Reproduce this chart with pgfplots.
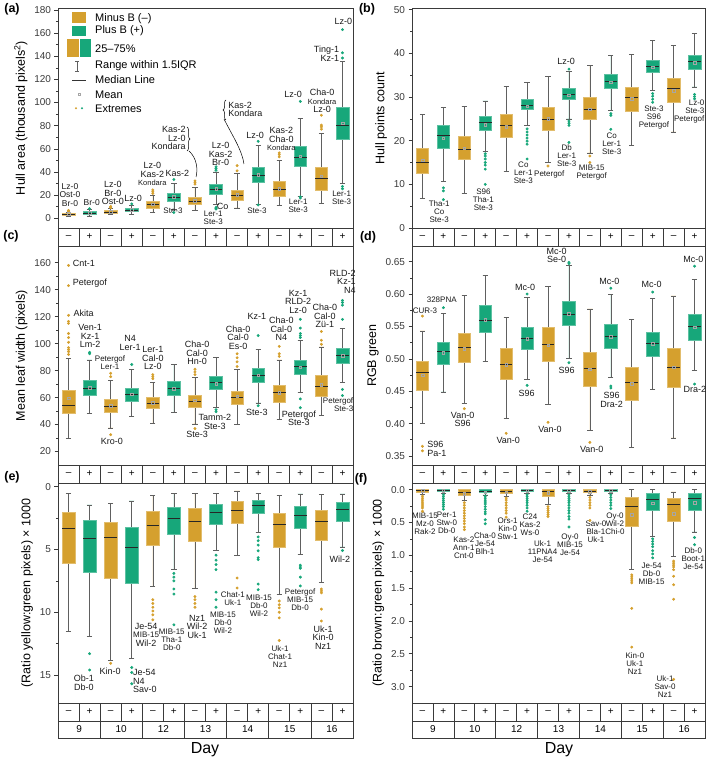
\documentclass[border=0pt]{standalone}
\usepackage{pgfplots}
\pgfplotsset{compat=1.18}
\usepgfplotslibrary{statistics}
\usetikzlibrary{decorations.pathreplacing}
\usepackage{fontspec}
\setmainfont{Liberation Sans}
\definecolor{mcol}{HTML}{D5A02E}
\definecolor{pcol}{HTML}{17A77A}
\definecolor{axc}{HTML}{3A3A3A}
\newcommand\pxy[2]{({#1pt},{760pt-#2pt})}
\tikzset{an/.style={font=\fontsize{9}{8.5}\selectfont, align=center, inner sep=0pt, text=black!90},
  ans/.style={an, font=\fontsize{8}{8}\selectfont}}
\pgfplotsset{
  panel/.style={scale only axis, clip=false, anchor=north west,
    xmin=0.5, xmax=14.5, xtick=\empty,
    axis line style={axc, line width=0.7pt},
    tick align=outside, ytick pos=left,
    tick style={axc, line width=0.6pt},
    major tick length=3.5pt, minor tick length=2pt,
    minor y tick num=1,
    yticklabel style={font=\fontsize{10}{10}\selectfont, text=axc},
    ylabel style={font=\fontsize{12.5}{13}\selectfont, text=black},
    /pgf/number format/assume math mode=true,
    /pgf/number format/1000 sep={},
    boxplot/draw direction=y,
    boxplot/box extend=0.6,
    boxplot/whisker extend=0.25,
    boxplot/every whisker/.style={draw=gray!75!black, line width=0.6pt},
    boxplot/every median/.style={draw=black!85, line width=0.7pt},
  },
  mb/.style={draw=mcol!70!white, fill=mcol, line width=0.5pt, mark=*, mark size=1.2pt, mark options={draw=mcol, fill=mcol}},
  pb/.style={draw=pcol!70!white, fill=pcol, line width=0.5pt, mark=*, mark size=1.2pt, mark options={draw=pcol, fill=pcol}},
  meanst/.style={only marks, mark=square, mark size=1.3pt, mark options={draw=black!35, line width=0.4pt, fill=none}},
  strip/.style={scale only axis, anchor=north west, height=18pt, xmin=0.5, xmax=14.5, ymin=0, ymax=1,
    xtick=\empty, ytick=\empty, axis line style={axc, line width=0.7pt},
    extra x ticks={1.5,2.5,...,13.5}, extra x tick labels={},
    extra x tick style={grid=major, major grid style={axc, line width=0.7pt}, major tick length=0pt}},
}
\newcommand\bm[7]{\addplot[mb, boxplot prepared={draw position=#1, lower whisker=#2, lower quartile=#3, median=#4, upper quartile=#5, upper whisker=#6}] coordinates {#7};}
\newcommand\bp[7]{\addplot[pb, boxplot prepared={draw position=#1, lower whisker=#2, lower quartile=#3, median=#4, upper quartile=#5, upper whisker=#6}] coordinates {#7};}
\newcommand\stripax[3]{%
\begin{axis}[strip, at={(#1pt,#2pt)}, width=#3pt]
\pgfplotsinvokeforeach{1,3,5,7,9,11,13}{\node[font=\fontsize{10}{10}\selectfont] at (axis cs:##1,0.5) {–};}
\pgfplotsinvokeforeach{2,4,6,8,10,12,14}{\node[font=\fontsize{10}{10}\selectfont] at (axis cs:##1,0.5) {+};}
\end{axis}}
\newcommand\dayax[3]{%
\begin{axis}[strip, at={(#1pt,#2pt)}, width=#3pt, height=17pt, extra x ticks={2.5,4.5,6.5,8.5,10.5,12.5}]
\node[font=\fontsize{10}{10}\selectfont] at (axis cs:1.5,0.5) {9};
\node[font=\fontsize{10}{10}\selectfont] at (axis cs:3.5,0.5) {10};
\node[font=\fontsize{10}{10}\selectfont] at (axis cs:5.5,0.5) {12};
\node[font=\fontsize{10}{10}\selectfont] at (axis cs:7.5,0.5) {13};
\node[font=\fontsize{10}{10}\selectfont] at (axis cs:9.5,0.5) {14};
\node[font=\fontsize{10}{10}\selectfont] at (axis cs:11.5,0.5) {15};
\node[font=\fontsize{10}{10}\selectfont] at (axis cs:13.5,0.5) {16};
\end{axis}}
\begin{document}
\begin{tikzpicture}
\useasboundingbox (0,0) rectangle (709pt,760pt);
%% (a)
\begin{axis}[panel, at={(58pt,752pt)}, width=295pt, height=220pt, ymin=-8.4, ymax=181.7, ytick={0,20,...,180},
  ylabel={Hull area (thousand pixels\textsuperscript{2})}]
\bm{1}{1.5}{3.0}{3.7}{4.5}{5.3}{(0,5.8)(0,6.3)(0,6.8)}
\bp{2}{2.0}{3.6}{4.5}{5.8}{7.5}{(0,8.3)}
\bm{3}{3.0}{4.5}{5.3}{6.5}{8.6}{(0,9.0)(0,9.6)(0,10.2)}
\bp{4}{3.0}{5.8}{7.0}{8.5}{11.0}{(0,12.5)}
\bm{5}{5.0}{9.0}{12.0}{15.0}{20.0}{(0,21.5)(0,23.0)(0,24.5)}
\bp{6}{7.5}{14.5}{18.2}{22.0}{30.0}{(0,33.5)(0,5.0)}
\bm{7}{7.0}{12.0}{15.0}{18.5}{27.0}{(0,29.5)(0,31.0)(0,32.3)}
\bp{8}{12.0}{21.0}{25.0}{29.0}{40.0}{(0,41.5)(0,43)(0,44.5)(0,9.5)(0,8.5)(0,8.0)}
\bm{9}{9.0}{15.5}{20.0}{24.5}{39.0}{(0,41.0)(0,45.5)}
\bp{10}{12.0}{31.0}{37.0}{44.0}{63.0}{(0,66.5)(0,11.5)}
\bm{11}{11.0}{19.0}{25.0}{32.0}{50.0}{(0,53.0)(0,55.0)(0,56.5)}
\bp{12}{19.0}{45.0}{52.5}{62.0}{86.0}{(0,101.0)(0,17.5)(0,18.5)}
\bm{13}{13.0}{24.0}{34.5}{44.5}{73.0}{(0,77.0)(0,79.0)(0,80.5)(0,89.0)}
\bp{14}{30.0}{68.0}{80.5}{96.0}{135.5}{(0,138.5)(0,143.0)(0,163.0)(0,25.5)(0,27.5)}
\addplot[meanst] coordinates {(1,3.8)(2,4.7)(3,5.5)(4,7.2)(5,12.3)(6,18.5)(7,15.4)(8,25.3)(9,20.5)(10,37.5)(11,25.8)(12,53.5)(13,36.5)(14,82.0)};
\node[an, font=\fontsize{8.5}{8.5}\selectfont] at (axis cs:1.07,20.2) {Lz-0\\Ost-0\\Br-0};
\node[an, font=\fontsize{8.5}{8.5}\selectfont] at (axis cs:2.1,13.8) {Br-0};
\node[an] at (axis cs:3.1,21.6) {Lz-0\\Br-0\\Ost-0};
\node[an] at (axis cs:4.07,17.3) {Lz-0};
\node[an] at (axis cs:4.98,38.3) {Lz-0\\Kas-2\\{\fontsize{7.5}{8}\selectfont Kondara}};
\node[an] at (axis cs:6.17,38.9) {Kas-2};
\node[ans] at (axis cs:5.96,6.6) {Ste-3};
\node[an, anchor=east, align=right] at (axis cs:6.57,69.1) {Kas-2\\Lz-0\\Kondara};
\node[an] at (axis cs:8.22,55.6) {Lz-0\\Kas-2\\Br-0};
\node[an, anchor=west] at (axis cs:8.03,10.1) {Co};
\node[ans] at (axis cs:7.87,0) {Ler-1\\Ste-3};
\node[an, anchor=west, align=left] at (axis cs:8.58,93.9) {Kas-2\\Kondara};
\node[ans] at (axis cs:9.94,6.6) {Ste-3};
\node[an] at (axis cs:9.85,72) {Lz-0};
\node[an] at (axis cs:11.1,68.3) {Kas-2\\Cha-0\\{\fontsize{7.5}{8}\selectfont Kondara}};
\node[an] at (axis cs:11.66,106.8) {Lz-0};
\node[ans] at (axis cs:11.9,10.7) {Ler-1\\Ste-3};
\node[an] at (axis cs:13.03,101.4) {Cha-0\\{\fontsize{7.5}{8}\selectfont Kondara}\\Lz-0};
\node[ans] at (axis cs:13.96,18.1) {Ler-1\\Ste-3};
\node[an] at (axis cs:14.04,170) {Lz-0};
\node[an, anchor=east, align=right] at (axis cs:13.85,142) {Ting-1\\Kz-1};
\end{axis}
\stripax{58}{532}{295}
%% (b)
\begin{axis}[panel, at={(412pt,752pt)}, width=293pt, height=220pt, ymin=0, ymax=50.4, ytick={0,10,...,50},
  ylabel={Hull points count}]
\bm{1}{6.8}{12.5}{15.0}{18.2}{26.1}{}
\bp{2}{10.7}{18.2}{21.2}{23.5}{27.7}{(0,9.2)(0,8.5)(0,6.5)}
\bm{3}{8.0}{15.8}{18.0}{21.1}{27.9}{}
\bp{4}{17.6}{22.3}{24.1}{25.6}{29.1}{(0,17.0)(0,16.5)(0,15.8)(0,15.0)(0,14.4)(0,13.5)(0,10.0)}
\bm{5}{13.0}{20.7}{23.4}{26.0}{32.4}{}
\bp{6}{23.5}{27.3}{28.2}{29.6}{33.3}{(0,22.7)(0,22.0)(0,21.3)(0,20.6)(0,19.9)(0,19.2)(0,15.8)}
\bm{7}{15.0}{22.5}{24.8}{27.7}{34.8}{(0,14.2)}
\bp{8}{25.0}{29.5}{30.7}{32.0}{35.8}{(0,36.4)(0,24.5)(0,24.0)(0,23.5)(0,19.6)}
\bm{9}{17.2}{24.8}{27.2}{30.0}{37.2}{(0,16.5)(0,15.0)}
\bp{10}{27.0}{32.0}{33.5}{35.2}{39.6}{(0,26.2)(0,25.8)(0,22.6)}
\bm{11}{18.9}{26.8}{30.0}{32.2}{39.8}{}
\bp{12}{31.5}{35.6}{37.0}{38.4}{42.9}{(0,30.8)(0,30.2)(0,29.5)(0,28.8)}
\bm{13}{22.0}{28.8}{32.0}{34.2}{41.8}{}
\bp{14}{32.3}{36.4}{38.2}{39.6}{44.5}{(0,30.6)(0,30.1)(0,29.6)}
\addplot[meanst] coordinates {(1,15.5)(2,20.6)(3,18.3)(4,23.6)(5,23.2)(6,27.9)(7,25.0)(8,30.4)(9,27.2)(10,33.4)(11,29.6)(12,36.8)(13,31.5)(14,37.9)};
\node[ans] at (axis cs:1.80,3.66) {Tha-1\\Co\\Ste-3};
\node[ans] at (axis cs:3.91,6.56) {S96\\Tha-1\\Ste-3};
\node[ans] at (axis cs:5.82,12.6) {Co\\Ler-1\\Ste-3};
\node[ans] at (axis cs:7.06,12.2) {Petergof};
\node[ans] at (axis cs:7.89,16.6) {Db\\Ler-1\\Ste-3};
\node[an] at (axis cs:7.86,38.2) {Lz-0};
\node[ans] at (axis cs:9.09,12.7) {MIB-15\\Petergof};
\node[ans] at (axis cs:10.04,19.3) {Co\\Ler-1\\Ste-3};
\node[ans] at (axis cs:12.06,25.4) {Ste-3\\S96\\Petergof};
\node[ans, anchor=east, align=right] at (axis cs:14.48,26.6) {Lz-0\\Ste-3\\Petergof};
\end{axis}
\stripax{412}{532}{293}
%% (c)
\begin{axis}[panel, at={(58pt,514pt)}, width=295pt, height=219pt, ymin=10, ymax=172.4, ytick={20,40,...,160},
  ylabel={Mean leaf width (pixels)}]
\bm{1}{30}{48.5}{54.5}{65.5}{89}{(0,92)(0,94)(0,95.5)(0,97)(0,101)(0,104.5)(0,107.5)(0,115)(0,116.5)(0,121)(0,143)(0,158)}
\bp{2}{48}{61.5}{67}{72.5}{88}{(0,92.5)(0,93.5)}
\bm{3}{37.5}{49}{53.5}{58.5}{73}{(0,75.5)(0,78)(0,32.5)}
\bp{4}{46}{57}{62.5}{67}{81}{(0,84.5)}
\bm{5}{41}{52}{55.5}{60}{71}{(0,74)(0,75.5)(0,77)}
\bp{6}{49}{61.5}{66.5}{72}{84.5}{}
\bm{7}{40.5}{53}{57.5}{62}{75}{(0,77)(0,79)(0,81)(0,37)}
\bp{8}{53}{66}{71}{75.5}{90}{(0,51)(0,49.5)}
\bm{9}{40}{55}{60.5}{65}{81}{(0,83)(0,86.5)(0,89.5)(0,92.5)}
\bp{10}{56}{71}{76.5}{82}{95.5}{(0,106)(0,54)}
\bm{11}{44}{56.5}{64}{69.5}{88}{(0,90.5)(0,92.5)(0,98)}
\bp{12}{64}{77}{83}{88}{102.5}{(0,104.5)(0,106)(0,107.5)(0,111.5)(0,118)(0,59)(0,52.5)}
\bm{13}{46.5}{61}{68}{76.5}{97.5}{(0,99.5)(0,102.5)(0,109)}
\bp{14}{71.5}{85.5}{91}{96.5}{111}{(0,118)(0,128.5)(0,130.5)(0,132)(0,66)(0,61.5)}
\addplot[meanst] coordinates {(1,59.5)(2,67.5)(3,54)(4,62.5)(5,56)(6,66.5)(7,58)(8,70.5)(9,61)(10,76.5)(11,63.5)(12,82.5)(13,69.5)(14,91)};
\node[an, anchor=west] at (axis cs:1.2,159.6) {Cnt-1};
\node[an, anchor=west] at (axis cs:1.2,144.7) {Petergof};
\node[an, anchor=west] at (axis cs:1.23,122.5) {Akita};
\node[an] at (axis cs:2.02,105.7) {Ven-1\\Kz-1\\Lm-2};
\node[ans] at (axis cs:2.97,86.2) {Petergof\\Ler-1};
\node[an] at (axis cs:3.06,27.4) {Kro-0};
\node[an] at (axis cs:3.92,100.5) {N4\\Ler-1};
\node[an] at (axis cs:5.0,89.2) {Ler-1\\Cal-0\\Lz-0};
\node[an] at (axis cs:7.1,92.9) {Cha-0\\Cal-0\\Hn-0};
\node[an] at (axis cs:7.1,32.4) {Ste-3};
\node[an] at (axis cs:7.95,41.8) {Tamm-2\\Ste-3};
\node[an] at (axis cs:9.05,104.7) {Cha-0\\Cal-0\\Es-0};
\node[an] at (axis cs:9.94,120) {Kz-1};
\node[an] at (axis cs:9.94,48.9) {Ste-3};
\node[an] at (axis cs:11.1,110.9) {Cha-0\\Cal-0\\N4};
\node[an] at (axis cs:11.9,131.1) {Kz-1\\RLD-2\\Lz-0};
\node[an] at (axis cs:11.93,44.7) {Petergof\\Ste-3};
\node[an] at (axis cs:13.17,120.5) {Cha-0\\Cal-0\\Zü-1};
\node[an, anchor=east, align=right] at (axis cs:14.64,145.9) {RLD-2\\Kz-1\\N4};
\node[ans, anchor=east, align=right] at (axis cs:14.52,54.8) {Petergof\\Ste-3};
\end{axis}
\stripax{58}{295}{295}
%% (d)
\begin{axis}[panel, at={(412pt,514pt)}, width=293pt, height=219pt, ymin=0.3361, ymax=0.6742,
  ytick={0.35,0.40,0.45,0.50,0.55,0.60,0.65},
  yticklabel style={/pgf/number format/fixed, /pgf/number format/fixed zerofill, /pgf/number format/precision=2},
  ylabel={RGB green}]
\bm{1}{0.400}{0.452}{0.479}{0.497}{0.543}{(0,0.566)(0,0.365)(0,0.358)}
\bp{2}{0.449}{0.491}{0.511}{0.526}{0.570}{(0,0.579)}
\bm{3}{0.431}{0.494}{0.518}{0.540}{0.598}{(0,0.423)}
\bp{4}{0.496}{0.541}{0.560}{0.582}{0.629}{}
\bm{5}{0.408}{0.469}{0.491}{0.517}{0.564}{(0,0.385)}
\bp{6}{0.468}{0.515}{0.531}{0.549}{0.595}{(0,0.600)(0,0.459)}
\bm{7}{0.430}{0.497}{0.523}{0.549}{0.612}{(0,0.402)}
\bp{8}{0.501}{0.552}{0.569}{0.589}{0.644}{(0,0.649)(0,0.647)(0,0.494)}
\bm{9}{0.389}{0.458}{0.485}{0.510}{0.577}{(0,0.371)}
\bp{10}{0.471}{0.516}{0.534}{0.554}{0.600}{(0,0.609)(0,0.458)(0,0.455)}
\bm{11}{0.363}{0.436}{0.463}{0.487}{0.561}{}
\bp{12}{0.453}{0.504}{0.524}{0.541}{0.593}{(0,0.603)}
\bm{13}{0.378}{0.456}{0.487}{0.517}{0.597}{}
\bp{14}{0.482}{0.529}{0.550}{0.569}{0.623}{(0,0.643)(0,0.461)}
\addplot[meanst] coordinates {(1,0.475)(2,0.509)(3,0.516)(4,0.560)(5,0.491)(6,0.531)(7,0.521)(8,0.570)(9,0.484)(10,0.534)(11,0.462)(12,0.523)(13,0.487)(14,0.549)};
\node[ans] at (axis cs:1.12,0.5743) {CUR-3};
\node[ans] at (axis cs:1.92,0.5909) {328PNA};
\node[an, anchor=west, align=left] at (axis cs:1.23,0.3608) {S96\\Pa-1};
\node[an] at (axis cs:2.92,0.4066) {Van-0\\S96};
\node[an] at (axis cs:5.1,0.3747) {Van-0};
\node[an] at (axis cs:5.9,0.6105) {Mc-0};
\node[an] at (axis cs:5.98,0.4468) {S96};
\node[an] at (axis cs:7.41,0.6593) {Mc-0\\Se-0};
\node[an] at (axis cs:7.09,0.3917) {Van-0};
\node[an] at (axis cs:7.89,0.4817) {S96};
\node[an] at (axis cs:9.93,0.6191) {Mc-0};
\node[an] at (axis cs:10.04,0.4365) {S96\\Dra-2};
\node[an] at (axis cs:9.09,0.3608) {Van-0};
\node[an] at (axis cs:11.95,0.6151) {Mc-0};
\node[an] at (axis cs:13.94,0.6541) {Mc-0};
\node[an] at (axis cs:14.02,0.453) {Dra-2};
\end{axis}
\stripax{412}{295}{293}
%% (e)
\begin{axis}[panel, at={(58pt,277pt)}, width=295pt, height=220pt, y dir=reverse, ymin=-0.3, ymax=17.23, ytick={0,5,10,15},
  ylabel={(Ratio yellow:green pixels) × 1000}]
\bm{1}{0.54}{2.07}{3.35}{6.1}{11.5}{}
\bp{2}{1.45}{2.65}{4.15}{6.8}{11.9}{(0,13.3)(0,14.6)}
\bm{3}{1.32}{2.79}{4.07}{7.27}{13.85}{(0,14.07)}
\bp{4}{1.13}{3.21}{4.79}{7.72}{13.67}{(0,14.4)(0,14.8)(0,15.7)}
\bm{5}{0.68}{1.99}{3.08}{4.68}{7.93}{(0,9.0)(0,9.3)(0,9.6)(0,9.9)(0,10.2)(0,10.6)}
\bp{6}{0.52}{1.67}{2.55}{3.75}{6.6}{(0,6.9)(0,7.2)(0,7.5)(0,8.15)(0,8.55)(0,11.0)}
\bm{7}{0.52}{1.72}{2.73}{4.33}{8.12}{(0,8.75)(0,9.0)(0,9.3)(0,9.6)}
\bp{8}{0.55}{1.4}{2.07}{2.95}{5.1}{(0,5.45)(0,5.85)(0,6.2)(0,6.6)(0,8.4)(0,9.0)(0,9.6)}
\bm{9}{0.33}{1.19}{1.85}{2.87}{5.48}{(0,7.27)(0,8.07)}
\bp{10}{0.52}{1.08}{1.45}{2.15}{3.61}{(0,4.0)(0,4.3)(0,4.65)(0,5.1)(0,5.65)(0,5.8)(0,7.75)(0,8.2)}
\bm{11}{0.68}{2.12}{3.0}{4.81}{8.6}{(0,9.1)(0,9.4)(0,9.65)(0,10.0)(0,10.45)(0,12.25)}
\bp{12}{0.57}{1.59}{2.28}{3.27}{5.4}{(0,6.25)(0,6.4)(0,6.5)(0,7.2)(0,7.9)}
\bm{13}{0.6}{1.88}{2.73}{4.25}{7.6}{(0,8.15)(0,8.3)(0,8.45)(0,9.75)(0,10.7)}
\bp{14}{0.57}{1.27}{1.8}{2.73}{4.79}{(0,5.08)}
\node[an] at (axis cs:1.73,15.6) {Ob-1\\Db-0};
\node[an] at (axis cs:2.97,14.7) {Kin-0};
\node[an, anchor=west, align=left] at (axis cs:4.05,15.5) {Je-54\\N4\\Sav-0};
\node[an] at (axis cs:4.68,11.8) {Je-54\\{\fontsize{8}{8}\selectfont MIB-15}\\Wil-2};
\node[ans] at (axis cs:5.9,12.16) {MIB-15\\Tha-1\\Db-0};
\node[an] at (axis cs:7.1,11.15) {Nz1\\Wil-2\\Uk-1};
\node[ans] at (axis cs:8.33,10.83) {MIB-15\\Db-0\\Wil-2};
\node[ans] at (axis cs:8.8,8.89) {Chat-1\\Uk-1};
\node[ans] at (axis cs:10.04,9.47) {MIB-15\\Db-0\\Wil-2};
\node[ans] at (axis cs:11.04,13.54) {Uk-1\\Chat-1\\Nz1};
\node[ans] at (axis cs:11.99,9.02) {Petergof\\MIB-15\\Db-0};
\node[an] at (axis cs:13.08,12.0) {Uk-1\\Kin-0\\Nz1};
\node[an] at (axis cs:13.88,5.77) {Wil-2};
\end{axis}
\stripax{58}{57}{295}
\dayax{58}{39}{295}
%% (f)
\begin{axis}[panel, at={(412pt,277pt)}, width=293pt, height=220pt, y dir=reverse, ymin=-0.1, ymax=3.25,
  ytick={0,0.5,1.0,1.5,2.0,2.5,3.0},
  yticklabel style={/pgf/number format/fixed, /pgf/number format/fixed zerofill, /pgf/number format/precision=1},
  ylabel={(Ratio brown:green pixels) × 1000}]
\bm{1}{0.0}{0.0}{0.01}{0.035}{0.07}{(0,0.1)(0,0.13)(0,0.16)(0,0.19)(0,0.22)(0,0.25)(0,0.28)(0,0.33)}
\bp{2}{0.0}{0.0}{0.01}{0.03}{0.06}{(0,0.08)(0,0.11)(0,0.14)(0,0.17)(0,0.2)(0,0.23)(0,0.26)(0,0.3)}
\bm{3}{0.0}{0.0}{0.04}{0.09}{0.17}{(0,0.2)(0,0.24)(0,0.28)(0,0.32)(0,0.36)(0,0.4)(0,0.44)(0,0.48)(0,0.52)(0,0.57)(0,0.61)}
\bp{4}{0.0}{0.0}{0.02}{0.045}{0.08}{(0,0.1)(0,0.13)(0,0.16)(0,0.19)(0,0.22)(0,0.26)(0,0.3)(0,0.34)(0,0.37)(0,0.46)(0,0.52)}
\bm{5}{0.0}{0.0}{0.02}{0.05}{0.1}{(0,0.13)(0,0.16)(0,0.2)(0,0.24)(0,0.28)(0,0.32)(0,0.36)(0,0.42)}
\bp{6}{0.0}{0.0}{0.01}{0.03}{0.06}{(0,0.08)(0,0.11)(0,0.14)(0,0.17)(0,0.2)(0,0.24)(0,0.28)(0,0.33)}
\bm{7}{0.0}{0.0}{0.03}{0.1}{0.22}{(0,0.26)(0,0.29)(0,0.32)(0,0.35)(0,0.38)(0,0.41)}
\bp{8}{0.0}{0.0}{0.01}{0.03}{0.06}{(0,0.08)(0,0.11)(0,0.14)(0,0.17)(0,0.2)(0,0.24)(0,0.28)(0,0.32)(0,0.36)(0,0.41)(0,0.45)(0,0.57)}
\bm{9}{0.0}{0.0}{0.02}{0.045}{0.08}{(0,0.12)(0,0.16)(0,0.2)(0,0.24)(0,0.28)(0,0.47)}
\bp{10}{0.0}{0.0}{0.01}{0.03}{0.06}{(0,0.08)(0,0.12)(0,0.16)(0,0.2)(0,0.24)(0,0.29)}
\bm{11}{0.0}{0.11}{0.25}{0.56}{1.22}{(0,1.3)(0,1.33)(0,1.36)(0,1.39)(0,1.42)(0,1.81)(0,2.4)}
\bp{12}{0.0}{0.05}{0.15}{0.315}{0.71}{(0,0.75)(0,0.79)(0,0.83)(0,0.87)(0,0.93)(0,0.98)(0,1.04)}
\bm{13}{0.035}{0.127}{0.22}{0.49}{1.02}{(0,1.09)(0,1.12)(0,1.15)(0,1.18)(0,1.22)(0,1.32)(0,1.45)(0,1.67)(0,2.89)}
\bp{14}{0.0}{0.06}{0.137}{0.315}{0.645}{(0,0.73)(0,0.84)}
\addplot[meanst] coordinates {(1,0.02)(2,0.015)(3,0.06)(4,0.04)(5,0.04)(6,0.02)(7,0.05)(8,0.02)(9,0.03)(10,0.02)(11,0.38)(12,0.21)(13,0.37)(14,0.2)};
\node[ans] at (axis cs:1.12,0.515) {MIB-15\\Mz-0\\Rak-2};
\node[ans] at (axis cs:2.16,0.505) {Per-1\\Stw-0\\Db-0};
\node[ans] at (axis cs:2.98,0.88) {Kas-2\\Ann-1\\Cnt-0};
\node[ans] at (axis cs:3.99,0.83) {Cha-0\\Je-54\\Blh-1};
\node[ans] at (axis cs:5.07,0.59) {Ors-1\\Kin-0\\Stw-1};
\node[ans] at (axis cs:6.14,0.54) {C24\\Kas-2\\Ws-0};
\node[ans] at (axis cs:6.74,0.947) {Uk-1\\11PNA4\\Je-54};
\node[ans] at (axis cs:8.05,0.845) {Oy-0\\MIB-15\\Je-54};
\node[ans] at (axis cs:9.29,0.642) {Sav-0\\Bla-1\\Uk-1};
\node[ans] at (axis cs:10.2,0.515) {Oy-0\\Wil-2\\Chi-0};
\node[ans] at (axis cs:11.95,1.276) {Je-54\\Db-0\\MIB-15};
\node[ans] at (axis cs:11.15,2.646) {Kin-0\\Uk-1\\Nz1};
\node[ans] at (axis cs:12.59,3.0) {Uk-1\\Sav-0\\Nz1};
\node[ans] at (axis cs:13.94,1.047) {Db-0\\Boot-1\\Je-54};
\end{axis}
\stripax{412}{57}{293}
\dayax{412}{39}{293}
%% legend of (a)
\fill[mcol] \pxy{72}{12} rectangle \pxy{86}{23};
\fill[pcol] \pxy{72}{26} rectangle \pxy{86}{36};
\fill[mcol] \pxy{67}{39} rectangle \pxy{78.5}{57};
\fill[pcol] \pxy{79.5}{39} rectangle \pxy{91}{57};
\draw[gray!75!black, line width=0.6pt] \pxy{77}{61} -- \pxy{77}{71} \pxy{75}{61} -- \pxy{79}{61} \pxy{75}{71} -- \pxy{79}{71};
\draw[black!80, line width=0.7pt] \pxy{72}{80} -- \pxy{86}{80};
\draw[black!35, line width=0.4pt] \pxy{77.7}{93} rectangle \pxy{80.3}{95.6};
\fill[mcol] \pxy{76}{108.3} circle (1.2pt);
\fill[pcol] \pxy{82}{108.3} circle (1.2pt);
\begin{scope}[every node/.style={anchor=west, inner sep=0pt, font=\fontsize{11}{11}\selectfont}]
\node at \pxy{95}{18.3} {Minus B (–)};
\node at \pxy{95}{31} {Plus B (+)};
\node at \pxy{95}{49} {25–75\%};
\node at \pxy{95}{66} {Range within 1.5IQR};
\node at \pxy{95}{80} {Median Line};
\node at \pxy{95}{94.3} {Mean};
\node at \pxy{95}{108.3} {Extremes};
\end{scope}
%% braces in (a)
\draw[decorate, decoration={brace, amplitude=3pt}, line width=0.5pt] \pxy{187}{127} -- \pxy{187}{151};
\draw[line width=0.5pt] \pxy{189}{151} .. controls \pxy{197}{158} and \pxy{198}{170} .. \pxy{196}{177};
\draw[decorate, decoration={brace, amplitude=3pt}, line width=0.5pt] \pxy{226}{120} -- \pxy{226}{100};
\draw[line width=0.5pt] \pxy{224}{119} .. controls \pxy{232}{135} and \pxy{242}{150} .. \pxy{244}{164};
%% panel letters
\begin{scope}[every node/.style={font=\bfseries\fontsize{12.5}{13}\selectfont, inner sep=0pt}]
\node at \pxy{12}{9} {(a)};
\node at \pxy{367}{9} {(b)};
\node at \pxy{11}{236} {(c)};
\node at \pxy{368}{237} {(d)};
\node at \pxy{12}{477} {(e)};
\node at \pxy{361}{479} {(f)};
\end{scope}
\node[font=\fontsize{16}{16}\selectfont] at \pxy{205}{750} {Day};
\node[font=\fontsize{16}{16}\selectfont] at \pxy{559}{750} {Day};
\end{tikzpicture}
\end{document}
